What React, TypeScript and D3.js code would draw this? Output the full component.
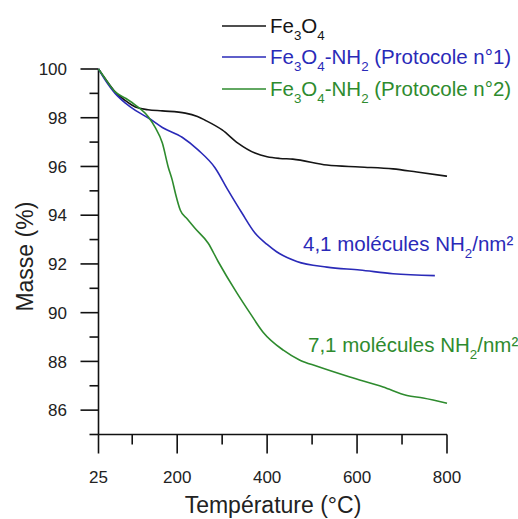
import React from "react";
import * as d3 from "d3";

const xMajorTicks = [25, 200, 400, 600, 800];
const xMinorTicks = [100, 300, 500, 700];
const yMajorTicks = [86, 88, 90, 92, 94, 96, 98, 100];
const yMinorTicks = [85, 87, 89, 91, 93, 95, 97, 99];

const seriesNames = [
  "Fe_3O_4",
  "Fe_3O_4-NH_2 (Protocole n°1)",
  "Fe_3O_4-NH_2 (Protocole n°2)",
];
const seriesColors = ["#151515", "#2a2ab8", "#2e8b2e"];

const fe3o4: [number, number][] = [
  [25, 100], [40, 99.6], [62, 99.06], [85, 98.7], [107, 98.44], [135, 98.33],
  [167, 98.28], [218, 98.19], [245, 98.05], [262, 97.9], [300, 97.5],
  [335, 96.96], [373, 96.55], [400, 96.4], [428, 96.33], [457, 96.3],
  [533, 96.06], [606, 95.98], [680, 95.9], [733, 95.77], [800, 95.6],
];
const protocole1: [number, number][] = [
  [25, 100], [40, 99.55], [62, 99.0], [85, 98.6], [107, 98.3], [136, 97.99],
  [167, 97.6], [211, 97.2], [247, 96.67], [284, 95.95], [313, 95.03],
  [344, 94.09], [373, 93.27], [400, 92.8], [421, 92.5], [466, 92.1],
  [533, 91.87], [606, 91.75], [680, 91.6], [773, 91.52],
];
const protocole2: [number, number][] = [
  [25, 100], [40, 99.6], [62, 99.06], [85, 98.8], [107, 98.52], [136, 98.03],
  [151, 97.6], [167, 96.96], [180, 95.98], [189, 95.44], [196, 94.9],
  [207, 94.2], [222, 93.85], [240, 93.45], [269, 92.85], [291, 92.1],
  [333, 90.8], [362, 89.98], [391, 89.2], [436, 88.46], [473, 88.05],
  [511, 87.8], [584, 87.36], [658, 86.95], [711, 86.6], [747, 86.5],
  [800, 86.28],
];
const seriesData = [fe3o4, protocole1, protocole2];

const annotations = [
  { text: "4,1 molécules NH_2/nm²", series: 1 },
  { text: "7,1 molécules NH_2/nm²", series: 2 },
];

const FONT = "'Liberation Sans', Arial, sans-serif";

function RichText({ text, x, y, size, fill, anchor }: any) {
  const parts: { t: string; sub: boolean }[] = [];
  let buf = "";
  for (let i = 0; i < text.length; i++) {
    if (text[i] === "_" && i + 1 < text.length) {
      if (buf) parts.push({ t: buf, sub: false });
      buf = "";
      parts.push({ t: text[i + 1], sub: true });
      i++;
    } else buf += text[i];
  }
  if (buf) parts.push({ t: buf, sub: false });
  const shift = size * 0.32;
  let prevSub = false;
  return (
    <text x={x} y={y} fill={fill} fontSize={size} fontFamily={FONT} textAnchor={anchor || "start"}>
      {parts.map((p, i) => {
        let dy = 0;
        if (p.sub && !prevSub) dy = shift;
        if (!p.sub && prevSub) dy = -shift;
        prevSub = p.sub;
        return (
          <tspan key={i} dy={dy} fontSize={p.sub ? size * 0.65 : size}>
            {p.t}
          </tspan>
        );
      })}
    </text>
  );
}

export default function App() {
  const W = 518, H = 519;
  const x = d3.scaleLinear().domain([25, 800]).range([98.5, 447]);
  const y = d3.scaleLinear().domain([85, 100]).range([434.5, 69]);
  const line = d3
    .line<[number, number]>()
    .x((d) => x(d[0]))
    .y((d) => y(d[1]))
    .curve(d3.curveMonotoneX);

  const axisColor = "#111";
  const sw = 1.6;

  const legendX0 = 222, legendX1 = 266;
  const legendY = [26, 57, 89];
  const annPos = [
    { x: 303, y: 251 },
    { x: 308, y: 352 },
  ];

  return (
    <svg width={W} height={H} style={{ position: "absolute", left: 0, top: 0, background: "#fff" }}>
      <rect width={W} height={H} fill="#fff" />
      {/* axes */}
      <line x1={x(25)} x2={x(25)} y1={y(85)} y2={y(100)} stroke={axisColor} strokeWidth={sw} />
      <line x1={x(25)} x2={x(800)} y1={y(85)} y2={y(85)} stroke={axisColor} strokeWidth={sw} />
      {yMajorTicks.map((v) => (
        <g key={"ym" + v}>
          <line x1={x(25) - 18} x2={x(25)} y1={y(v)} y2={y(v)} stroke={axisColor} strokeWidth={sw} />
          <text x={67} y={y(v)} dy="0.36em" textAnchor="end" fontSize={17} fontFamily={FONT} fill="#222">
            {v}
          </text>
        </g>
      ))}
      {yMinorTicks.map((v) => (
        <line key={"yn" + v} x1={x(25) - 9} x2={x(25)} y1={y(v)} y2={y(v)} stroke={axisColor} strokeWidth={sw} />
      ))}
      {xMajorTicks.map((v) => (
        <g key={"xm" + v}>
          <line x1={x(v)} x2={x(v)} y1={y(85)} y2={y(85) + 19} stroke={axisColor} strokeWidth={sw} />
          <text x={x(v)} y={483} textAnchor="middle" fontSize={17} fontFamily={FONT} fill="#222">
            {v}
          </text>
        </g>
      ))}
      {xMinorTicks.map((v) => (
        <line key={"xn" + v} x1={x(v)} x2={x(v)} y1={y(85)} y2={y(85) + 10} stroke={axisColor} strokeWidth={sw} />
      ))}
      <text x={273} y={513} textAnchor="middle" fontSize={23} fontFamily={FONT} fill="#222">
        Température (°C)
      </text>
      <text
        transform={`translate(33,${y(92.3)}) rotate(-90)`}
        textAnchor="middle"
        fontSize={23}
        fontFamily={FONT}
        fill="#222"
      >
        Masse (%)
      </text>
      {/* series */}
      {seriesData.map((d, i) => (
        <path key={"s" + i} d={line(d) || ""} fill="none" stroke={seriesColors[i]} strokeWidth={1.6} />
      ))}
      {/* legend */}
      {seriesNames.map((n, i) => (
        <g key={"l" + i}>
          <line x1={legendX0} x2={legendX1} y1={legendY[i]} y2={legendY[i]} stroke={seriesColors[i]} strokeWidth={1.6} />
          <RichText text={n} x={270} y={legendY[i] + 7} size={20.5} fill={seriesColors[i]} />
        </g>
      ))}
      {annotations.map((a, i) => (
        <RichText key={"a" + i} text={a.text} x={annPos[i].x} y={annPos[i].y} size={20.5} fill={seriesColors[a.series]} />
      ))}
    </svg>
  );
}
